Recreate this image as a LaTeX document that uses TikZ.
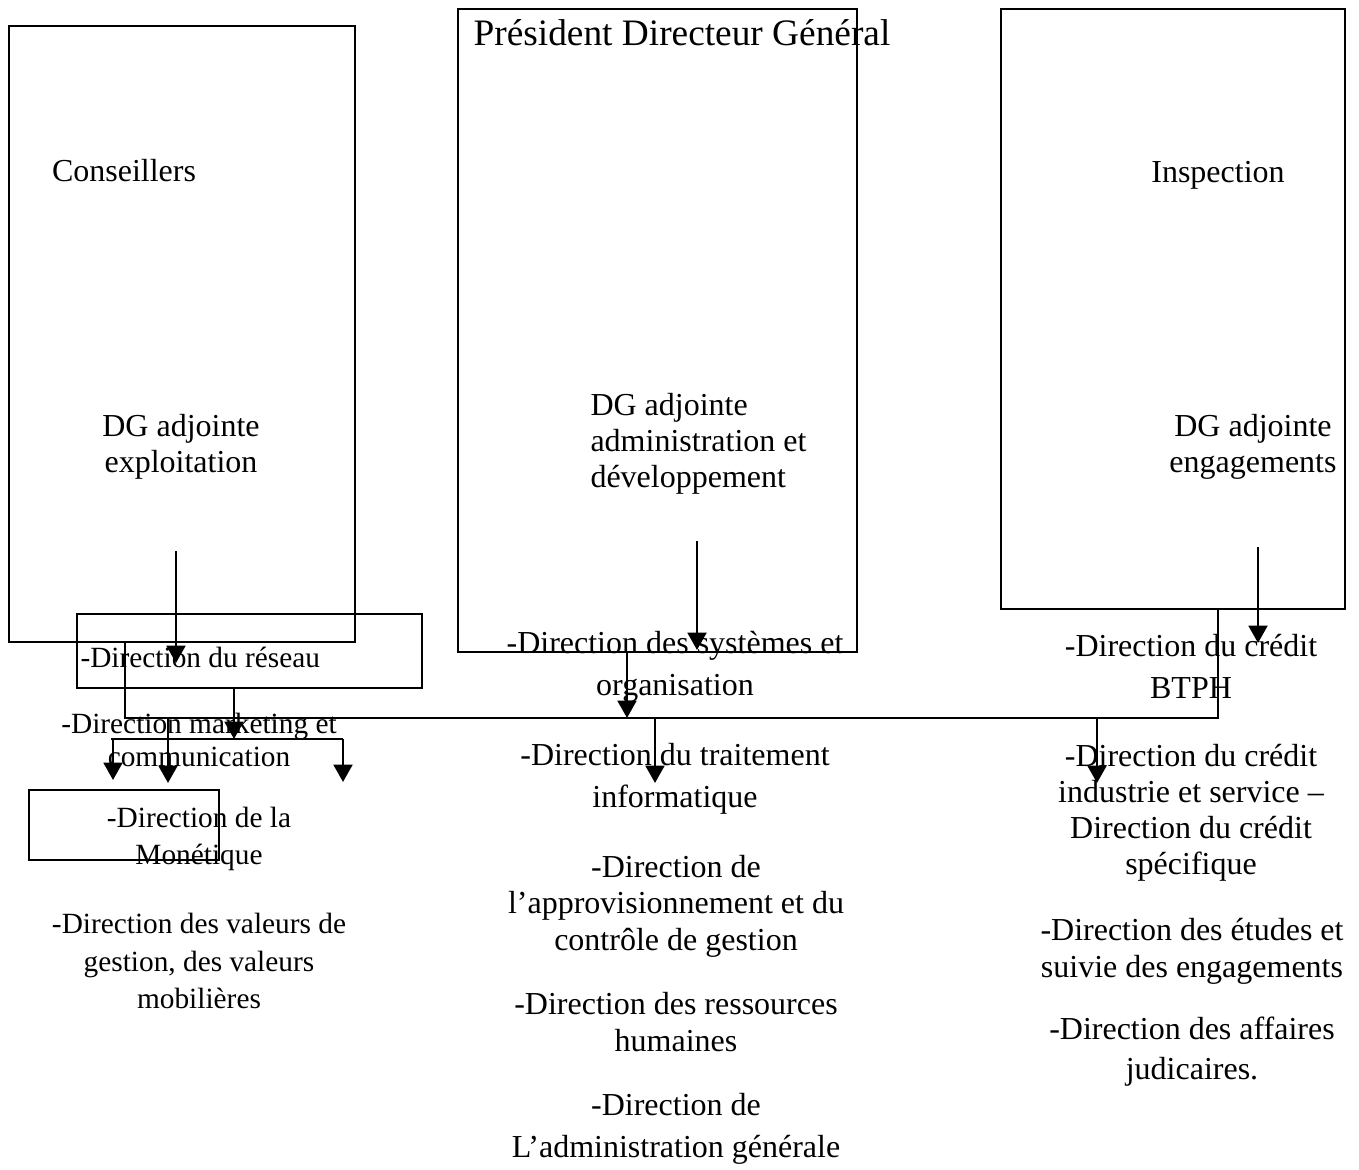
\documentclass[tikz,border=0pt]{standalone}
\usepackage{fontspec}
\setmainfont{Liberation Serif}
\usetikzlibrary{arrows.meta}
\newcommand{\pxu}{0.375pt}
\newcommand{\corps}[1]{\fontsize{12pt}{#1pt}\selectfont}
\newcommand{\petit}[1]{\fontsize{11pt}{#1pt}\selectfont}
\tikzstyle{cadre}=[draw, line width=0.75pt, inner sep=0pt, anchor=north west]
\tikzstyle{texte}=[align=center, inner sep=0pt]
\tikzstyle{fleche}=[-{Triangle[width=7pt,length=6.5pt]}, line width=1.1pt]
\tikzstyle{filet}=[line width=0.75pt]

\begin{document}
\begin{tikzpicture}[x=\pxu, y=-\pxu]
\useasboundingbox (0, 0) rectangle (1359, 1169);

% les trois grands cadres
\node[cadre, minimum width=346*\pxu, minimum height=616*\pxu] at (8, 25) (conseil) {};
\node[cadre, minimum width=399*\pxu, minimum height=643*\pxu] at (457, 8) (pdg) {};
\node[cadre, minimum width=344*\pxu, minimum height=600*\pxu] at (1000, 8) (inspect) {};
\node[cadre, minimum width=345*\pxu, minimum height=74*\pxu] at (76, 613) (reseau) {};
\node[cadre, minimum width=190*\pxu, minimum height=70*\pxu] at (28, 789) (monet) {};

\node[texte, font=\fontsize{14pt}{16pt}\selectfont] at (682, 33) (titre) {Président Directeur Général};
\node[texte, font=\corps{14}] at (124, 171) (conseillers) {Conseillers};
\node[texte, font=\corps{14}] at (1218, 175) (inspection) {Inspection};
\node[texte, font=\corps{13.5}] at (181, 447) (dgexp) {DG adjointe\\exploitation};
\node[texte, font=\corps{13.5}, align=left, anchor=west] at (590, 444) (dgadm) {DG adjointe\\administration et\\développement};
\node[texte, font=\corps{13.5}] at (1253, 447) (dgeng) {DG adjointe\\engagements};

% colonne de gauche
\node[texte, font=\petit{14}, anchor=west] at (80, 657) (dreseau) {-Direction du réseau};
\node[texte, font=\petit{12.4}] at (199, 740) (dmark) {-Direction marketing et\\communication};
\node[texte, font=\petit{13.9}] at (199, 839) (dmonet) {-Direction de la\\Monétique};
\node[texte, font=\petit{14.2}] at (199, 961) (dval) {-Direction des valeurs de\\gestion, des valeurs\\mobilières};

% colonne du milieu
\node[texte, font=\corps{15.75}] at (675, 667) (dsys) {-Direction des systèmes et\\organisation};
\node[texte, font=\corps{15.75}] at (675, 779) (dinfo) {-Direction du traitement\\informatique};
\node[texte, font=\corps{13.7}] at (676, 906) (dappro) {-Direction de\\l’approvisionnement et du\\contrôle de gestion};
\node[texte, font=\corps{13.7}] at (676, 1022) (drh) {-Direction des ressources\\humaines};
\node[texte, font=\corps{15.75}] at (676, 1129) (dadm) {-Direction de\\L’administration générale};

% colonne de droite
\node[texte, font=\corps{15.75}] at (1191, 666) (dbtph) {-Direction du crédit\\BTPH};
\node[texte, font=\corps{13.5}] at (1191, 813) (dind) {-Direction du crédit\\industrie et service –\\Direction du crédit\\spécifique};
\node[texte, font=\corps{13.9}] at (1192, 951) (detud) {-Direction des études et\\suivie des engagements};
\node[texte, font=\corps{15}] at (1192, 1052) (daff) {-Direction des affaires\\judicaires.};

% connecteurs
\coordinate (busg) at (125, 718);
\coordinate (busd) at (1218, 718);
\draw[filet] (busg |- conseil.south) -- (busg) -- (busd) -- (busd |- inspect.south);

\coordinate (a1) at (176, 551);
\coordinate (b1) at (176, 663);
\draw[fleche] (a1) -- (b1);
\coordinate (a2) at (697, 541);
\coordinate (b2) at (697, 650);
\draw[fleche] (a2) -- (b2);
\coordinate (a3) at (1258, 547);
\coordinate (b3) at (1258, 643);
\draw[fleche] (a3) -- (b3);

\coordinate (p1) at (627, 718);
\draw[fleche] (p1 |- pdg.south) -- (p1);
\coordinate (b4) at (655, 783);
\draw[fleche] (b4 |- busg) -- (b4);
\coordinate (b5) at (1097, 783);
\draw[fleche] (b5 |- busg) -- (b5);
\coordinate (b6) at (168, 783);
\draw[fleche] (b6 |- busg) -- (b6);

\coordinate (fg) at (111, 739);
\coordinate (fd) at (343, 739);
\coordinate (b7) at (234, 739);
\draw[fleche] (b7 |- reseau.south) -- (b7);
\draw[filet] (fg) -- (fd);
\draw[fleche] (113, 739) -- (113, 780);
\draw[fleche] (fd) -- (343, 782);
\end{tikzpicture}
\end{document}
